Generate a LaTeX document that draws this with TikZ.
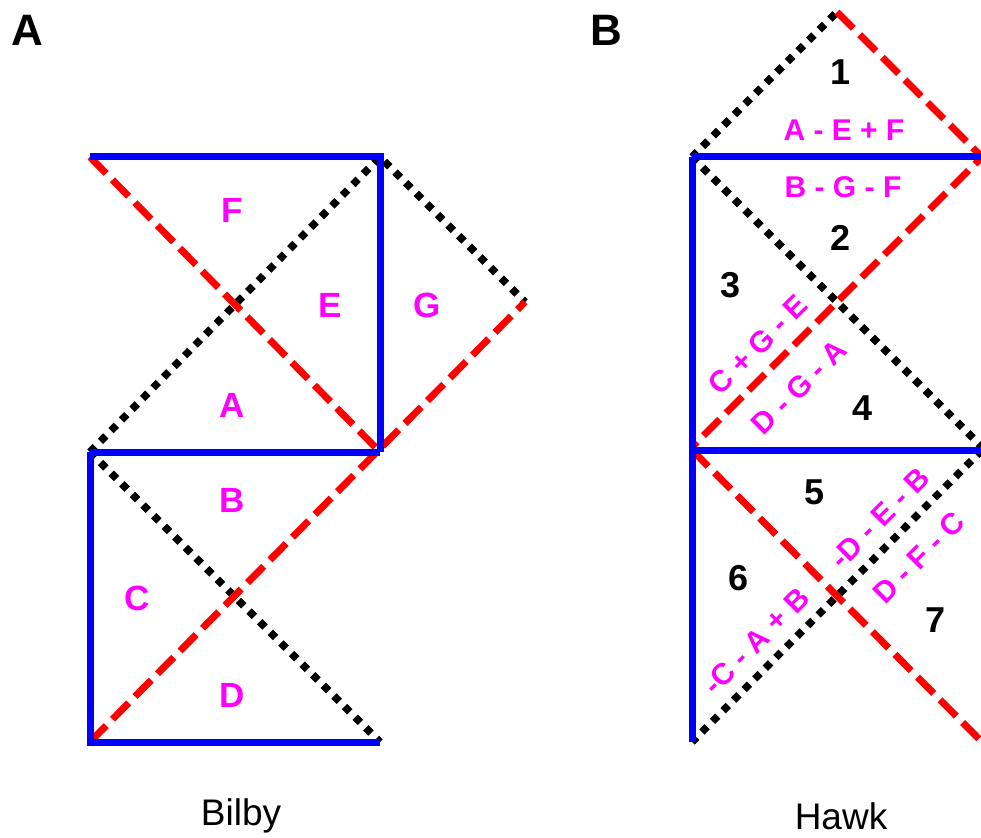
\documentclass[tikz,border=0pt]{standalone}
\usepackage{fontspec}
\setmainfont{Liberation Sans}
\definecolor{mag}{RGB}{255,0,255}
\definecolor{bblue}{RGB}{0,0,255}
\definecolor{rred}{RGB}{255,0,0}
\begin{document}
\begin{tikzpicture}[x=1pt,y=-1pt,
  bl/.style={draw=bblue, line width=7},
  rd/.style={draw=rred, line width=7, dash pattern=on 23 off 9},
  dt/.style={draw=black, line width=7.5, dash pattern=on 7.5 off 7.5},
  lab/.style={text=mag, font=\bfseries\fontsize{35}{35}\selectfont},
  hlab/.style={text=mag, font=\bfseries\fontsize{30}{30}\selectfont},
  num/.style={text=black, font=\bfseries\fontsize{36}{36}\selectfont},
  panel/.style={text=black, font=\bfseries\fontsize{44}{44}\selectfont},
  captext/.style={text=black, font=\fontsize{37}{37}\selectfont}]
\useasboundingbox (0,0) rectangle (981,837);
% Panel A coordinates
\coordinate (a1) at (90,157);
\coordinate (a2) at (380,157);
\coordinate (a3) at (90,452);
\coordinate (a4) at (380,452);
\coordinate (a5) at (90,742);
\coordinate (a6) at (380,742);
\coordinate (a7) at (525,302);
% Panel A lines
\draw[dt] (a3) -- (a2) -- (a7);
\draw[dt] (a3) -- (a6);
\draw[rd] (a1) -- (a4);
\draw[rd] (a5) -- (a7);
\draw[bl] (a1) -- (a2) -- (a4);
\draw[bl] (a3) -- (a4);
\draw[bl] (a3) -- (a5) -- (a6);
% Panel A labels
\node[lab] (lF) at (232,210) {F};
\node[lab] (lE) at (330,305) {E};
\node[lab] (lG) at (427,305) {G};
\node[lab] (lA) at (232,405) {A};
\node[lab] (lB) at (232,500) {B};
\node[lab] (lC) at (137,598) {C};
\node[lab] (lD) at (232,695) {D};
% Panel B coordinates
\coordinate (b0) at (837,12);
\coordinate (b1) at (692,157);
\coordinate (b2) at (982,157);
\coordinate (b3) at (692,450);
\coordinate (b4) at (982,450);
\coordinate (b5) at (692,742);
\coordinate (b6) at (982,742);
\coordinate (b3r) at (692,447);
\coordinate (b4d) at (982,447);
% Panel B lines
\draw[dt] (b1) -- (b0);
\draw[dt] (b1) -- (b4d);
\draw[dt] (b4) -- (b5);
\draw[rd] (b0) -- (b2) -- (b3r);
\draw[rd] (b3) -- (b6);
\draw[bl] (b1) -- (b2);
\draw[bl] (b3) -- (b4);
\draw[bl] (b1) -- (b5);
% Panel B labels
\node[num] (n1) at (840,72) {1};
\node[hlab] (e1) at (844,130) {A - E + F};
\node[hlab] (e2) at (843,187) {B - G - F};
\node[num] (n2) at (840,238) {2};
\node[num] (n3) at (730,285) {3};
\node[num] (n4) at (862,408) {4};
\node[num] (n5) at (814,492) {5};
\node[num] (n6) at (738,578) {6};
\node[num] (n7) at (935,620) {7};
\node[hlab, rotate=45] (e3) at (758,345) {C + G - E};
\node[hlab, rotate=45] (e4) at (799,387) {D - G - A};
\node[hlab, rotate=45] (e5) at (880,518) {-D - E - B};
\node[hlab, rotate=45] (e6) at (919,558) {D - F - C};
\node[hlab, rotate=45] (e7) at (756,641) {-C - A + B};
% Panel titles and captions
\node[panel] (pA) at (27,30) {A};
\node[panel] (pB) at (606,30) {B};
\node[captext] (cA) at (241,816) {Bilby};
\node[captext] (cB) at (841,816) {Hawk};
\end{tikzpicture}
\end{document}
